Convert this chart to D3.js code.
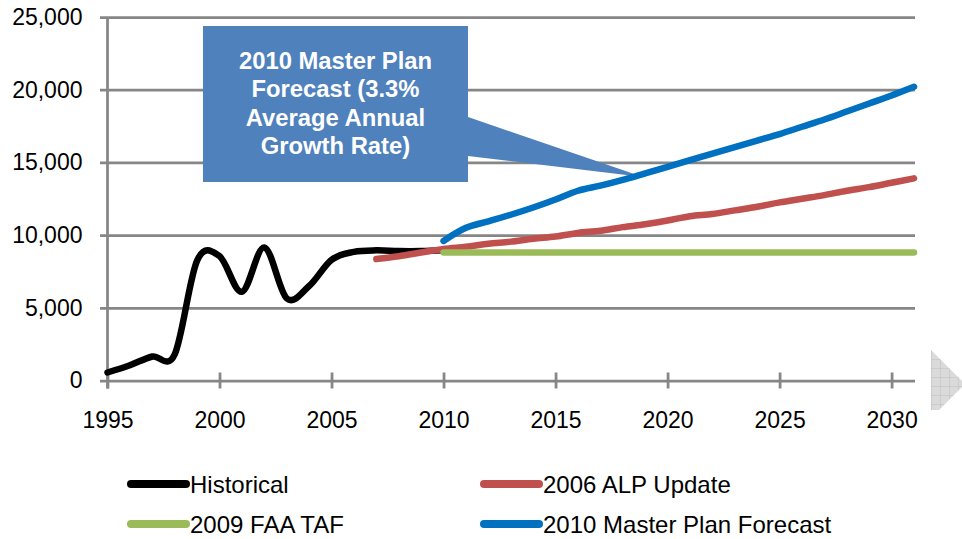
<!DOCTYPE html>
<html>
<head>
<meta charset="utf-8">
<script src="https://cdn.jsdelivr.net/npm/d3@7"></script>
<style>
  html, body { margin: 0; padding: 0; background: #fff; }
  svg { display: block; font-family: "Liberation Sans", Arial, sans-serif; }
</style>
</head>
<body>
<main></main>
<script>
// Data
const histYears = [1995, 1996, 1997, 1998, 1999, 2000, 2001, 2002, 2003, 2004, 2005, 2006, 2007, 2008, 2009, 2010];
const histValues = [550, 1050, 1650, 1800, 8250, 8550, 6100, 9150, 5650, 6500, 8300, 8850, 8950, 8900, 8900, 8950];

const alpYears = [2007, 2008, 2009, 2010, 2011, 2012, 2013, 2014, 2015, 2016, 2017, 2018, 2019,
  2020, 2021, 2022, 2023, 2024, 2025, 2026, 2027, 2028, 2029, 2030, 2031];
const alpValues = [8350, 8550, 8800, 9050, 9200, 9400, 9550, 9750, 9900, 10150, 10300, 10550, 10750,
  11000, 11300, 11450, 11700, 11950, 12250, 12500, 12750, 13050, 13300, 13600, 13900];

const tafYears = [2010, 2011, 2012, 2013, 2014, 2015, 2016, 2017, 2018, 2019, 2020,
  2021, 2022, 2023, 2024, 2025, 2026, 2027, 2028, 2029, 2030, 2031];
const tafValues = [8800, 8800, 8800, 8800, 8800, 8800, 8800, 8800, 8800, 8800, 8800,
  8800, 8800, 8800, 8800, 8800, 8800, 8800, 8800, 8800, 8800, 8800];

const mpYears = [2010, 2011, 2012, 2013, 2014, 2015, 2016, 2017, 2018, 2019, 2020,
  2021, 2022, 2023, 2024, 2025, 2026, 2027, 2028, 2029, 2030, 2031];
const mpValues = [9600, 10500, 10950, 11400, 11900, 12450, 13050, 13400, 13800, 14250, 14700,
  15150, 15600, 16050, 16500, 16950, 17450, 17950, 18500, 19050, 19600, 20200];

const seriesNames = ["Historical", "2006 ALP Update", "2009 FAA TAF", "2010 Master Plan Forecast"];
const xTicks = [1995, 2000, 2005, 2010, 2015, 2020, 2025, 2030];
const yTicks = [0, 5000, 10000, 15000, 20000, 25000];
const calloutLines = ["2010 Master Plan", "Forecast (3.3%", "Average Annual", "Growth Rate)"];

const COLORS = ["#000000", "#C0504D", "#9BBB59", "#0070C0"];
const GRID = "#868686";
const W = 962, H = 539;

const svg = d3.select("main").append("svg")
  .attr("width", W)
  .attr("height", H);

const x = d3.scaleLinear().domain([1995, 2031]).range([107.5, 914]);
const y = d3.scaleLinear().domain([0, 25000]).range([380.5, 17]);

// Gridlines + y axis labels
const yAxis = svg.append("g")
  .attr("transform", "translate(" + x(1995) + ",0)")
  .call(d3.axisLeft(y)
    .tickValues(yTicks)
    .tickSizeInner(-(915 - x(1995)))
    .tickSizeOuter(0)
    .tickPadding(25)
    .tickFormat(d3.format(",")));
yAxis.select(".domain").remove();
yAxis.selectAll(".tick line")
  .attr("x1", -7.5)
  .attr("stroke", GRID)
  .attr("stroke-width", 2.75);
yAxis.selectAll(".tick text")
  .attr("font-size", 23)
  .attr("font-family", "Liberation Sans, Arial, sans-serif")
  .attr("fill", "#000");

// vertical axis line
svg.append("line")
  .attr("x1", x(1995)).attr("x2", x(1995))
  .attr("y1", y(25000)).attr("y2", y(0) + 8)
  .attr("stroke", GRID)
  .attr("stroke-width", 2.75);

// x axis ticks crossing the baseline
const xAxis = svg.append("g")
  .attr("transform", "translate(0," + y(0) + ")")
  .call(d3.axisBottom(x)
    .tickValues(xTicks)
    .tickSize(8)
    .tickSizeOuter(0)
    .tickPadding(23)
    .tickFormat(d3.format("d")));
xAxis.select(".domain").remove();
xAxis.selectAll(".tick line")
  .attr("y1", -8)
  .attr("stroke", GRID)
  .attr("stroke-width", 2.75);
xAxis.selectAll(".tick text")
  .attr("font-size", 23)
  .attr("font-family", "Liberation Sans, Arial, sans-serif")
  .attr("fill", "#000");

// Callout box
const callout = svg.append("g");
callout.append("path")
  .attr("d", "M468,117 L643,177 L468,156 Z")
  .attr("fill", "#4F81BD");
callout.append("rect")
  .attr("x", 203).attr("y", 26)
  .attr("width", 265).attr("height", 156)
  .attr("fill", "#4F81BD");
callout.selectAll("text")
  .data(calloutLines)
  .join("text")
  .attr("x", 335.5)
  .attr("y", (d, i) => 69 + i * 28.4)
  .attr("text-anchor", "middle")
  .attr("fill", "#fff")
  .attr("font-weight", "bold")
  .attr("font-size", 23.8)
  .text((d) => d);

// Series lines
const series = [
  d3.zip(histYears, histValues),
  d3.zip(alpYears, alpValues),
  d3.zip(tafYears, tafValues),
  d3.zip(mpYears, mpValues),
];

const line = d3.line()
  .x((d) => x(d[0]))
  .y((d) => y(d[1]))
  .curve(d3.curveCardinal.tension(0));

svg.append("g")
  .selectAll("path")
  .data(series)
  .join("path")
  .attr("d", line)
  .attr("fill", "none")
  .attr("stroke", (d, i) => COLORS[i])
  .attr("stroke-width", 6.5)
  .attr("stroke-linecap", "round")
  .attr("stroke-linejoin", "round");

// Legend
const legend = svg.append("g")
  .selectAll("g")
  .data(seriesNames)
  .join("g")
  .attr("transform", (d, i) => "translate(" + (i % 2 ? 484 : 131) + "," + (i < 2 ? 484 : 524) + ")");
legend.append("line")
  .attr("x1", 0).attr("x2", 55)
  .attr("stroke", (d, i) => COLORS[i])
  .attr("stroke-width", 8)
  .attr("stroke-linecap", "round");
legend.append("text")
  .attr("x", 59)
  .attr("y", 8.5)
  .attr("font-size", 24)
  .attr("fill", "#000")
  .text((d) => d);

// Hatched page-corner marker on the right edge
const defs = svg.append("defs");
const pat = defs.append("pattern")
  .attr("id", "hatch")
  .attr("patternUnits", "userSpaceOnUse")
  .attr("width", 9).attr("height", 9)
  .attr("x", 931).attr("y", 350);
pat.append("rect").attr("width", 9).attr("height", 9).attr("fill", "#DADADA");
pat.append("path").attr("d", "M0,0 H9 M0,0 V9").attr("stroke", "#B8B8B8").attr("stroke-width", 0.8);
svg.append("path")
  .attr("d", "M931,350 L962,381 L962,387 L939,410 L931,410 Z")
  .attr("fill", "url(#hatch)");
</script>
</body>
</html>
